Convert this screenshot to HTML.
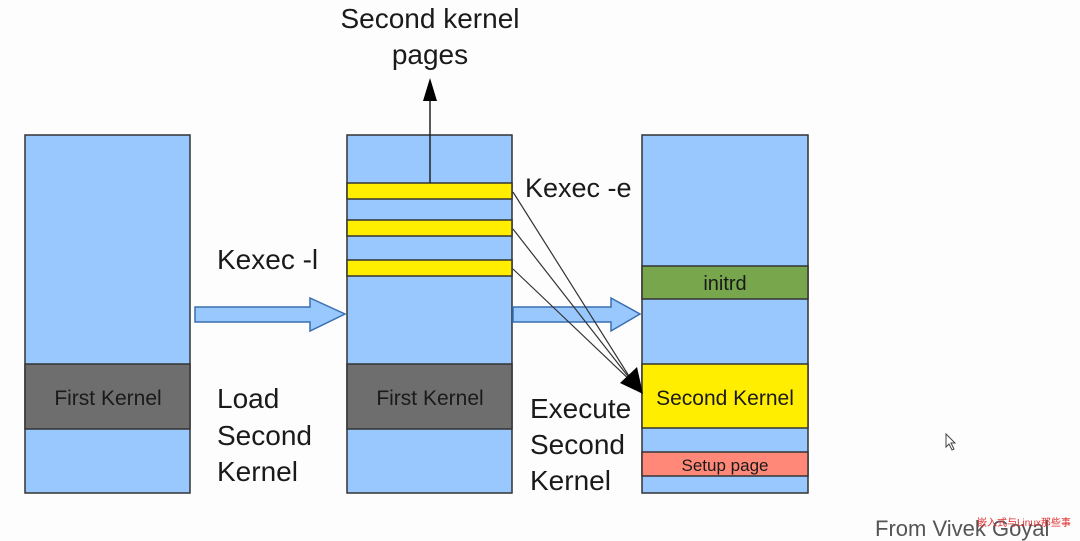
<!DOCTYPE html>
<html><head><style>
html,body{margin:0;padding:0;background:#fff;width:1080px;height:541px;overflow:hidden}
svg{display:block}
text{font-family:"Liberation Sans",sans-serif;fill:#1a1a1a}
</style></head><body>
<svg width="1080" height="541" viewBox="0 0 1080 541" xmlns="http://www.w3.org/2000/svg">
<rect x="0" y="0" width="1080" height="541" fill="#fdfdfd"/>
<g stroke="#333" stroke-width="1.5">
<rect x="25" y="135" width="165" height="358" fill="#99c8ff"/>
<rect x="25" y="364" width="165" height="65" fill="#6e6e6e"/>
<rect x="347" y="135" width="165" height="358" fill="#99c8ff"/>
<rect x="347" y="183" width="165" height="16" fill="#ffee00"/>
<rect x="347" y="220" width="165" height="16" fill="#ffee00"/>
<rect x="347" y="260" width="165" height="16" fill="#ffee00"/>
<rect x="347" y="364" width="165" height="65" fill="#6e6e6e"/>
<rect x="642" y="135" width="166" height="358" fill="#99c8ff"/>
<rect x="642" y="266" width="166" height="33" fill="#78a64c"/>
<rect x="642" y="364" width="166" height="64" fill="#ffee00"/>
<rect x="642" y="452" width="166" height="24" fill="#ff8878"/>
</g>
<g fill="#99c8ff" stroke="#3a6fb0" stroke-width="1.5">
<polygon points="195,307 310,307 310,298 345,314 310,331 310,322 195,322"/>
<polygon points="513,307 611,307 611,298 640,314 611,331 611,322 513,322"/>
</g>
<line x1="430" y1="183" x2="430" y2="98" stroke="#222" stroke-width="1.5"/>
<polygon points="430,78 423,101 437,101" fill="#000"/>
<g stroke="#333" stroke-width="1.2">
<line x1="513" y1="192" x2="634" y2="384"/>
<line x1="513" y1="229" x2="634" y2="384"/>
<line x1="513" y1="269" x2="634" y2="384"/>
</g>
<polygon points="643,394 620,383 637,367" fill="#000"/>
<text x="430" y="28" font-size="28" text-anchor="middle">Second kernel</text>
<text x="430" y="64" font-size="28" text-anchor="middle">pages</text>
<text x="217" y="269" font-size="28">Kexec -l</text>
<text x="217" y="408" font-size="28">Load</text>
<text x="217" y="445" font-size="28">Second</text>
<text x="217" y="481" font-size="28">Kernel</text>
<text x="525" y="197" font-size="27">Kexec -e</text>
<text x="530" y="418" font-size="28">Execute</text>
<text x="530" y="454" font-size="28">Second</text>
<text x="530" y="490" font-size="28">Kernel</text>
<text x="108" y="405" font-size="21" text-anchor="middle">First Kernel</text>
<text x="430" y="405" font-size="21" text-anchor="middle">First Kernel</text>
<text x="725" y="290" font-size="20" text-anchor="middle">initrd</text>
<text x="725" y="405" font-size="21" text-anchor="middle">Second Kernel</text>
<text x="725" y="471" font-size="17" text-anchor="middle">Setup page</text>
<text x="875" y="536" font-size="22" style="fill:#555">From Vivek Goyal</text>
<text x="977" y="526" font-size="10" style="fill:#e03030">嵌入式与Linux那些事</text>
<path d="M946,434 L946,447 L949,444 L952,450 L954,449 L951,443 L955,443 Z" fill="#fff" stroke="#444" stroke-width="1"/>
</svg>
</body></html>
